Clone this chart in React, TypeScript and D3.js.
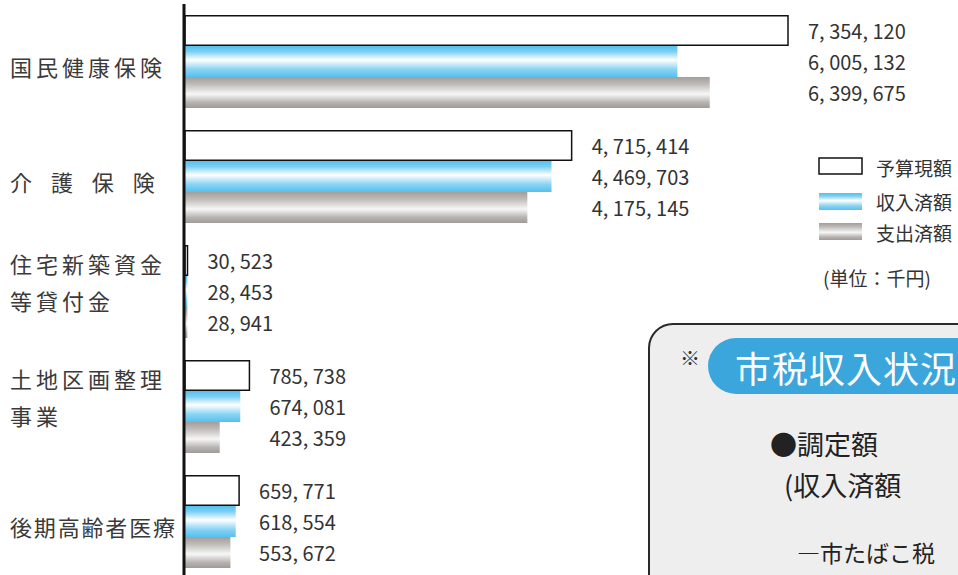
import React from "react";
import * as d3 from "d3";

const categoryLines: string[][] = [
  ["国民健康保険"],
  ["介 護 保 険"],
  ["住宅新築資金", "等貸付金"],
  ["土地区画整理", "事業"],
  ["後期高齢者医療"],
];
const budget = [7354120, 4715414, 30523, 785738, 659771];
const revenue = [6005132, 4469703, 28453, 674081, 618554];
const expenditure = [6399675, 4175145, 28941, 423359, 553672];
const seriesNames = ["予算現額", "収入済額", "支出済額"];
const unitLabel = "(単位：千円)";
const insetMark = "※";
const insetTitle = "市税収入状況";
const insetLines = ["●調定額", "(収入済額", "―市たばこ税"];

const W = 958;
const H = 575;
const FONT = "'Noto Sans CJK JP', 'Noto Sans', sans-serif";

export default function App() {
  const groups = categoryLines.map((_, i) => String(i));
  const y = d3
    .scaleBand<string>()
    .domain(groups)
    .range([15, 568])
    .paddingInner(22 / 115)
    .paddingOuter(0);
  const series = [budget, revenue, expenditure];
  const ySub = d3
    .scaleBand<string>()
    .domain(seriesNames)
    .range([0, y.bandwidth()])
    .padding(0);
  const maxV = d3.max(series.flat()) as number;
  const x = d3.scaleLinear().domain([0, maxV]).range([185, 788]);
  const fmt = (v: number) => d3.format(",")(v).replace(/,/g, ", ");
  const fills = ["#ffffff", "url(#gBlue)", "url(#gGray)"];

  return (
    <svg
      width={W}
      height={H}
      style={{ position: "absolute", left: 0, top: 0, background: "#fff" }}
      fontFamily={FONT}
    >
      <defs>
        <linearGradient id="gBlue" x1="0" y1="0" x2="0" y2="1">
          <stop offset="0%" stopColor="#55c0ee" />
          <stop offset="18%" stopColor="#7ccff3" />
          <stop offset="45%" stopColor="#ffffff" />
          <stop offset="75%" stopColor="#8ad4f4" />
          <stop offset="100%" stopColor="#55c0ee" />
        </linearGradient>
        <linearGradient id="gGray" x1="0" y1="0" x2="0" y2="1">
          <stop offset="0%" stopColor="#a39e9a" />
          <stop offset="22%" stopColor="#bdb9b6" />
          <stop offset="55%" stopColor="#f7f7f7" />
          <stop offset="82%" stopColor="#b7b3b0" />
          <stop offset="100%" stopColor="#a09b98" />
        </linearGradient>
      </defs>

      {/* bars */}
      {groups.map((g, gi) => {
        const top = y(g) as number;
        const ends = series.map((s) => x(s[gi]));
        const labelX = (d3.max(ends) as number) + 20;
        return (
          <g key={g}>
            {series.map((s, si) => {
              const by = top + (ySub(seriesNames[si]) as number);
              const bh = ySub.bandwidth();
              return (
                <g key={si}>
                  {si === 0 ? (
                    <rect
                      x={x(0)}
                      y={by + 0.75}
                      width={Math.max(1, x(s[gi]) - x(0))}
                      height={bh - 1.5}
                      fill="#fff"
                      stroke="#111"
                      strokeWidth={1.5}
                    />
                  ) : (
                    <rect
                      x={x(0)}
                      y={by}
                      width={x(s[gi]) - x(0)}
                      height={bh}
                      fill={fills[si]}
                    />
                  )}
                  <text
                    x={labelX}
                    y={by + bh / 2}
                    dominantBaseline="central"
                    fontSize={20}
                    fill="#333"
                  >
                    {fmt(s[gi])}
                  </text>
                </g>
              );
            })}
            {categoryLines[gi].map((line, li) => {
              const n = categoryLines[gi].length;
              const chars = line.replace(/ /g, "").length;
              const ls = Math.min(4, (165 - chars * 22) / Math.max(1, chars - 1));
              const cy = top + y.bandwidth() / 2 + (n === 1 ? 4 : -29) + li * 37;
              return (
                <text
                  key={li}
                  x={10}
                  y={cy}
                  dominantBaseline="central"
                  fontSize={22}
                  letterSpacing={ls}
                  wordSpacing={6}
                  fill="#3a3a3a"
                  style={{ whiteSpace: "pre" }}
                >
                  {line}
                </text>
              );
            })}
          </g>
        );
      })}

      {/* axis */}
      <line x1={184} x2={184} y1={4} y2={H} stroke="#111" strokeWidth={3} />

      {/* legend */}
      <g>
        <rect x={819} y={158} width={43} height={16} fill="#fff" stroke="#111" strokeWidth={1.5} />
        <rect x={819} y={193} width={43} height={17} fill="url(#gBlue)" />
        <rect x={819} y={223} width={43} height={17} fill="url(#gGray)" />
        {seriesNames.map((s, i) => (
          <text
            key={s}
            x={876}
            y={[167, 201, 232][i]}
            dominantBaseline="central"
            fontSize={19}
            fill="#333"
          >
            {s}
          </text>
        ))}
        <text x={823} y={277} dominantBaseline="central" fontSize={19} fill="#333">
          {unitLabel}
        </text>
      </g>

      {/* inset */}
      <g>
        <rect x={649} y={324} width={420} height={400} rx={24} fill="#eeeeee" stroke="#2a2a2a" strokeWidth={2} />
        <text x={680} y={357} dominantBaseline="central" fontSize={20} fill="#333">
          {insetMark}
        </text>
        <rect x={708} y={338} width={420} height={56} rx={28} fill="#3aa6dc" />
        <text x={735} y={367} dominantBaseline="central" fontSize={36} fill="#fff" letterSpacing={1}>
          {insetTitle}
        </text>
        <text x={770} y={443} dominantBaseline="central" fontSize={27} fill="#222">
          {insetLines[0]}
        </text>
        <text x={784} y={484} dominantBaseline="central" fontSize={27} fill="#222">
          {insetLines[1]}
        </text>
        <text x={797} y={552} dominantBaseline="central" fontSize={23} fill="#222">
          {insetLines[2]}
        </text>
      </g>
    </svg>
  );
}
